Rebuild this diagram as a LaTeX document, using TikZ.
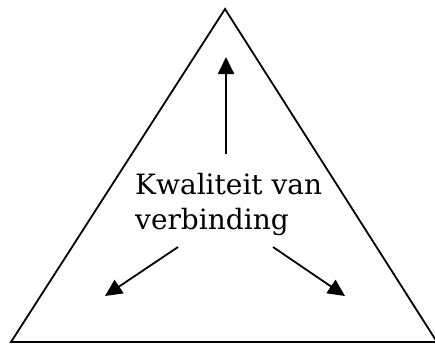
\documentclass[tikz,border=0pt]{standalone}
\usepackage{fontspec}
\setmainfont{DejaVu Serif}[FakeStretch=1.0]
\usetikzlibrary{arrows.meta}
\tikzstyle{side} = [line width=1.8pt, line join=miter]
\tikzstyle{arrow} = [line width=1.8pt, -{Triangle[length=17pt, width=16pt]}]
\tikzstyle{caption} = [inner sep=0pt, align=left, font=\fontsize{28}{35}\selectfont]

\begin{document}
\begin{tikzpicture}[x=1pt, y=-1pt]
    \useasboundingbox (0,0) rectangle (435,346);
    \coordinate (top) at (225,9);
    \coordinate (left) at (11,342);
    \coordinate (right) at (437,342);
    \draw [side] (left) -- (top) -- (right) -- cycle;
    \node (q) [caption, anchor=west] at (135,204) {Kwaliteit van\\verbinding};
    \coordinate (up1) at (226,154);
    \coordinate (up2) at (226,57);
    \coordinate (l1) at (178,247);
    \coordinate (l2) at (105,296);
    \coordinate (r1) at (273,247);
    \coordinate (r2) at (345,296);
    \draw [arrow] (up1) -- (up2);
    \draw [arrow] (l1) -- (l2);
    \draw [arrow] (r1) -- (r2);
\end{tikzpicture}
\end{document}
